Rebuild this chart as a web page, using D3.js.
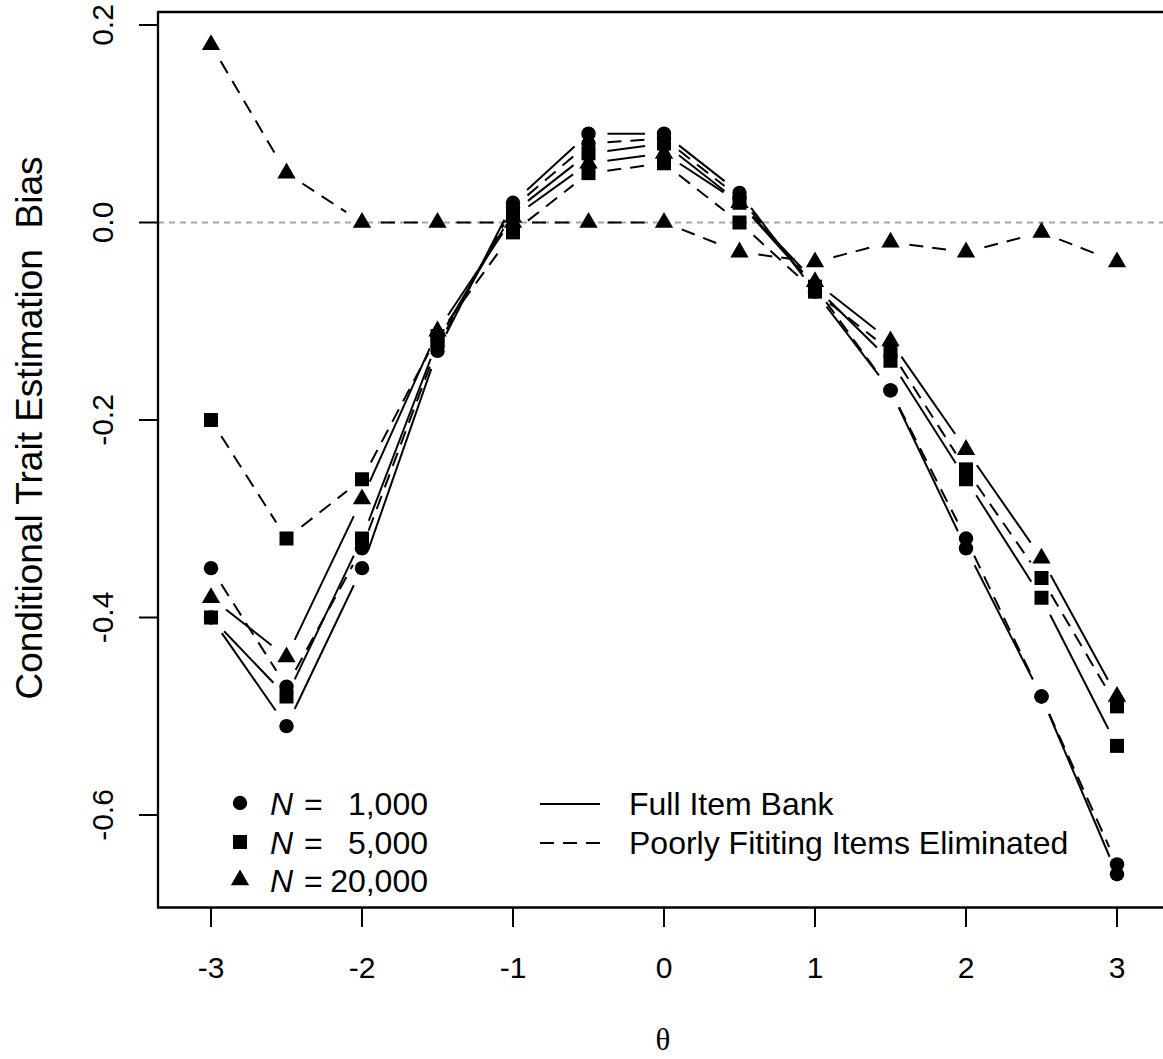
<!DOCTYPE html>
<html>
<head>
<meta charset="utf-8">
<script src="https://cdn.jsdelivr.net/npm/d3@7"></script>
<style>
body { margin: 0; background: #fff; }
text { font-family: "Liberation Sans", Arial, Helvetica, sans-serif; fill: #000; }
</style>
</head>
<body>
<div id="chart"></div>
<script>
// theta grid
var theta = [-3, -2.5, -2, -1.5, -1, -0.5, 0, 0.5, 1, 1.5, 2, 2.5, 3];

// bias values
var circleFull = [-0.40, -0.51, -0.35, -0.13, 0.02, 0.09, 0.09, 0.03, -0.07, -0.17, -0.33, -0.48, -0.66];
var circleElim = [-0.35, -0.47, -0.33, -0.125, 0.015, 0.08, 0.085, 0.025, -0.065, -0.17, -0.32, -0.48, -0.65];
var squareFull = [-0.40, -0.48, -0.32, -0.12, 0.01, 0.07, 0.08, 0.02, -0.065, -0.14, -0.26, -0.38, -0.53];
var squareElim = [-0.20, -0.32, -0.26, -0.115, -0.01, 0.05, 0.06, 0.00, -0.07, -0.13, -0.25, -0.36, -0.49];
var triFull = [-0.38, -0.44, -0.28, -0.11, 0.005, 0.06, 0.07, 0.02, -0.06, -0.12, -0.23, -0.34, -0.48];
var triElim = [0.18, 0.05, 0.00, 0.00, 0.00, 0.00, 0.00, -0.03, -0.04, -0.02, -0.03, -0.01, -0.04];

var xTicks = [-3, -2, -1, 0, 1, 2, 3];
var yTicks = [0.2, 0, -0.2, -0.4, -0.6];
var yTickLabels = ["0.2", "0.0", "-0.2", "-0.4", "-0.6"];

var sampleLabels = ["1,000", "5,000", "20,000"];
var lineLabels = ["Full Item Bank", "Poorly Fititing Items Eliminated"];

var series = [
  {values: circleFull, shape: "circle", dashed: false},
  {values: circleElim, shape: "circle", dashed: true},
  {values: squareFull, shape: "square", dashed: false},
  {values: squareElim, shape: "square", dashed: true},
  {values: triFull, shape: "triangle", dashed: false},
  {values: triElim, shape: "triangle", dashed: true}
];

var svgWidth = 1163;
var svgHeight = 1059;

// plot box (right side runs off the page like the original)
var box = {left: 158, top: 12, bottom: 907.5, right: 1175};
var dashPattern = "14,9";
var gap = 19;

var svg = d3.select("#chart")
  .append("svg")
  .attr("width", svgWidth)
  .attr("height", svgHeight);

var x = d3.scaleLinear().domain([-3, 3]).range([211, 1117]);
var y = d3.scaleLinear().domain([-0.6, 0.2]).range([815, 25]);

// marker drawing, sizes close to R's pch 16/15/17
function drawMarker(g, shape, cx, cy) {
  if (shape == "circle") {
    g.append("circle").attr("cx", cx).attr("cy", cy).attr("r", 7.2).attr("fill", "#000");
  } else if (shape == "square") {
    g.append("rect").attr("x", cx - 7).attr("y", cy - 7).attr("width", 14).attr("height", 14).attr("fill", "#000");
  } else {
    var R = 6.8;
    var pts = [[cx, cy - 1.555 * R], [cx + 1.347 * R, cy + 0.778 * R], [cx - 1.347 * R, cy + 0.778 * R]];
    g.append("path").attr("d", "M" + pts.join("L") + "Z").attr("fill", "#000");
  }
}

// reference line at zero
svg.append("line")
  .attr("x1", box.left).attr("x2", box.right)
  .attr("y1", y(0)).attr("y2", y(0))
  .attr("stroke", "#a6a6a6")
  .attr("stroke-width", 2)
  .attr("stroke-dasharray", "6,5");

// series: R type="b" style, segments stop short of the points
var linesG = svg.append("g");
var pointsG = svg.append("g");
series.forEach(function(s) {
  for (var i = 0; i < theta.length - 1; i++) {
    var x0 = x(theta[i]), y0 = y(s.values[i]);
    var x1 = x(theta[i + 1]), y1 = y(s.values[i + 1]);
    var d = Math.sqrt((x1 - x0) * (x1 - x0) + (y1 - y0) * (y1 - y0));
    if (d <= 2 * gap) continue;
    var ux = (x1 - x0) / d, uy = (y1 - y0) / d;
    linesG.append("line")
      .attr("x1", x0 + ux * gap).attr("y1", y0 + uy * gap)
      .attr("x2", x1 - ux * gap).attr("y2", y1 - uy * gap)
      .attr("stroke", "#000")
      .attr("stroke-width", 2)
      .attr("stroke-dasharray", s.dashed ? dashPattern : null);
  }
  theta.forEach(function(t, i) {
    drawMarker(pointsG, s.shape, x(t), y(s.values[i]));
  });
});

// box (left, top, bottom)
svg.append("path")
  .attr("d", "M" + box.right + "," + box.top + "H" + box.left + "V" + box.bottom + "H" + box.right)
  .attr("fill", "none")
  .attr("stroke", "#000")
  .attr("stroke-width", 2.3);

// x axis ticks and labels
var xAxis = svg.append("g");
xTicks.forEach(function(t) {
  xAxis.append("line")
    .attr("x1", x(t)).attr("x2", x(t))
    .attr("y1", box.bottom).attr("y2", 927)
    .attr("stroke", "#000").attr("stroke-width", 2);
  xAxis.append("text")
    .attr("x", x(t)).attr("y", 978)
    .attr("text-anchor", "middle")
    .style("font-size", "30px")
    .text(t);
});

// y axis ticks and rotated labels
var yAxis = svg.append("g");
yTicks.forEach(function(t, i) {
  yAxis.append("line")
    .attr("x1", 139).attr("x2", box.left)
    .attr("y1", y(t)).attr("y2", y(t))
    .attr("stroke", "#000").attr("stroke-width", 2);
  yAxis.append("text")
    .attr("transform", "translate(113," + y(t) + ") rotate(-90)")
    .attr("text-anchor", "middle")
    .style("font-size", "30px")
    .text(yTickLabels[i]);
});

// axis titles
svg.append("text")
  .attr("transform", "translate(42,428) rotate(-90)")
  .attr("text-anchor", "middle")
  .style("font-size", "37px")
  .style("white-space", "pre")
  .attr("xml:space", "preserve")
  .text("Conditional Trait Estimation  Bias");

svg.append("text")
  .attr("x", 663).attr("y", 1050)
  .attr("text-anchor", "middle")
  .style("font-family", "'Liberation Serif', 'DejaVu Serif', serif")
  .style("font-size", "31px")
  .text("\u03b8");

// legend for sample size
var shapes = ["circle", "square", "triangle"];
var rowY = [803, 842, 880];
var leg1 = svg.append("g");
sampleLabels.forEach(function(lab, i) {
  drawMarker(leg1, shapes[i], 240, rowY[i]);
  leg1.append("text").attr("x", 270).attr("y", rowY[i] + 12)
    .style("font-size", "32px").style("font-style", "italic").text("N");
  leg1.append("text").attr("x", 304).attr("y", rowY[i] + 12)
    .style("font-size", "32px").text("=");
  leg1.append("text").attr("x", 428).attr("y", rowY[i] + 12)
    .attr("text-anchor", "end")
    .style("font-size", "32px").text(lab);
});

// legend for line type
var leg2 = svg.append("g");
lineLabels.forEach(function(lab, i) {
  leg2.append("line")
    .attr("x1", 540).attr("x2", 600)
    .attr("y1", rowY[i] + 1).attr("y2", rowY[i] + 1)
    .attr("stroke", "#000").attr("stroke-width", 2)
    .attr("stroke-dasharray", i == 1 ? dashPattern : null);
  leg2.append("text").attr("x", 629).attr("y", rowY[i] + 12)
    .style("font-size", "32px").text(lab);
});
</script>
</body>
</html>
